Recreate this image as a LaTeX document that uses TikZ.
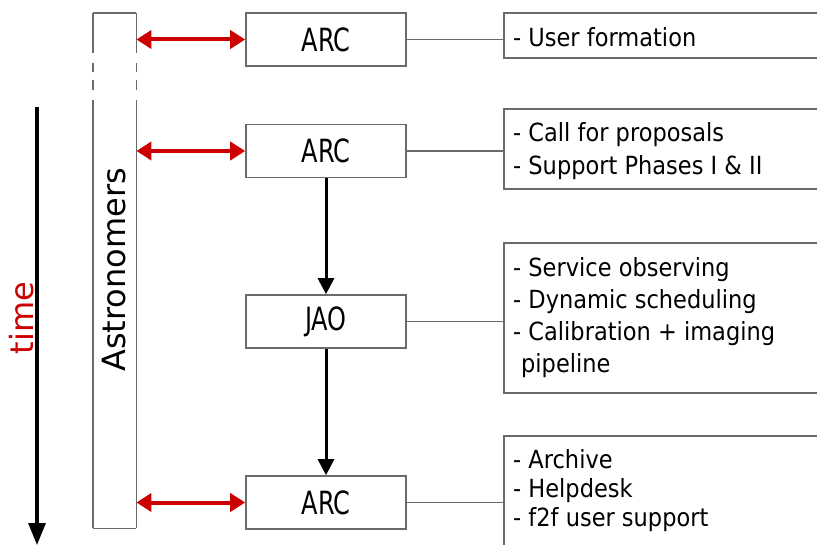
\documentclass[tikz,border=0pt]{standalone}
\usepackage{fontspec}
\setmainfont{DejaVu Sans}
\newfontfamily\boxfont[FakeStretch=0.9]{DejaVu Sans}
\newfontfamily\arcfont[FakeStretch=0.75]{DejaVu Sans}
\usetikzlibrary{arrows.meta}
\definecolor{boxgray}{HTML}{6A6A6A}
\definecolor{arrred}{HTML}{CC0000}
\tikzset{
  orgbox/.style={draw=boxgray, line width=1.6pt, rectangle, inner sep=0pt,
    minimum width=160pt, minimum height=53pt, font=\arcfont\fontsize{32}{36}\selectfont},
  listbox/.style={draw=boxgray, line width=1.6pt, rectangle, inner sep=0pt, anchor=north west,
    minimum width=330pt},
  listtext/.style={anchor=base west, inner sep=0pt, font=\boxfont\fontsize{25}{30}\selectfont},
  link/.style={draw=boxgray, line width=1.4pt},
  redarrow/.style={draw=arrred, line width=4pt, {Triangle[length=15pt,width=18pt]}-{Triangle[length=15pt,width=18pt]}},
  flowarrow/.style={draw=black, line width=3pt, -{Triangle[length=16pt,width=16pt]}},
  barline/.style={draw=boxgray, line width=1.5pt}
}
\begin{document}
\begin{tikzpicture}[x=1pt,y=-1pt]
\useasboundingbox (0,0) rectangle (817,545);
\clip (0,0) rectangle (817,545);

% Astronomers bar
\node[rectangle, inner sep=0pt, minimum width=43pt, minimum height=515pt, anchor=north west] (astro) at (93,13) {};
\draw[barline] (astro.north west) -- (astro.north east);
\draw[barline] (astro.south west) -- (astro.south east);
\foreach \s in {west,east}{
  \draw[barline] (astro.north \s) -- ++(0,40);
  \draw[barline] ([yshift=-50pt]astro.north \s) -- ++(0,9);
  \draw[barline] ([yshift=-67pt]astro.north \s) -- ++(0,10);
  \draw[barline] ([yshift=-87pt]astro.north \s) -- (astro.south \s);
}
\node[rotate=90, anchor=base, inner sep=0pt, font=\fontsize{32}{36}\selectfont] (astrolabel) at (125,270) {Astronomers};

% time arrow
\coordinate (tstart) at (37,107);
\coordinate (tend) at (37,545);
\draw[line width=3.2pt, -{Triangle[length=22pt,width=17pt]}] (tstart) -- (tend);
\node[rotate=90, anchor=base, inner sep=0pt, text=arrred, font=\fontsize{32}{36}\selectfont] (timelabel) at (33,318) {time};

% middle boxes
\node[orgbox] (arc1) at (326,39.5) {ARC};
\node[orgbox] (arc2) at (326,151) {ARC};
\node[orgbox] (jao) at (326,321.5) {JAO};
\node[orgbox] (arc4) at (326,502.5) {ARC};

% red arrows
\draw[redarrow] (astro.east |- arc1.west) -- (arc1.west);
\draw[redarrow] (astro.east |- arc2.west) -- (arc2.west);
\draw[redarrow] (astro.east |- arc4.west) -- (arc4.west);

% flow arrows
\draw[flowarrow] (arc2.south) -- (jao.north);
\draw[flowarrow] (jao.south) -- (arc4.north);

% right list boxes
\node[listbox, minimum height=45pt] (rb1) at (503,12) {};
\node[listbox, minimum height=80pt] (rb2) at (503,108) {};
\node[listbox, minimum height=150pt] (rb3) at (503,242) {};
\node[listbox, minimum height=130pt] (rb4) at (503,435) {};

\draw[link] (arc1.east) -- (arc1.east -| rb1.west);
\draw[link] (arc2.east) -- (arc2.east -| rb2.west);
\draw[link] (jao.east) -- (jao.east -| rb3.west);
\draw[link] (arc4.east) -- (arc4.east -| rb4.west);

% list texts
\node[listtext] (t1a) at (513,47) {- User formation};
\node[listtext] (t2a) at (513,142) {- Call for proposals};
\node[listtext] (t2b) at (513,175) {- Support Phases I \& II};
\node[listtext] (t3a) at (513,277) {- Service observing};
\node[listtext] (t3b) at (513,309) {- Dynamic scheduling};
\node[listtext] (t3c) at (513,341) {- Calibration + imaging};
\node[listtext] (t3d) at (521,373) {pipeline};
\node[listtext] (t4a) at (513,468) {- Archive};
\node[listtext] (t4b) at (513,497) {- Helpdesk};
\node[listtext] (t4c) at (513,526) {- f2f user support};
\end{tikzpicture}
\end{document}
